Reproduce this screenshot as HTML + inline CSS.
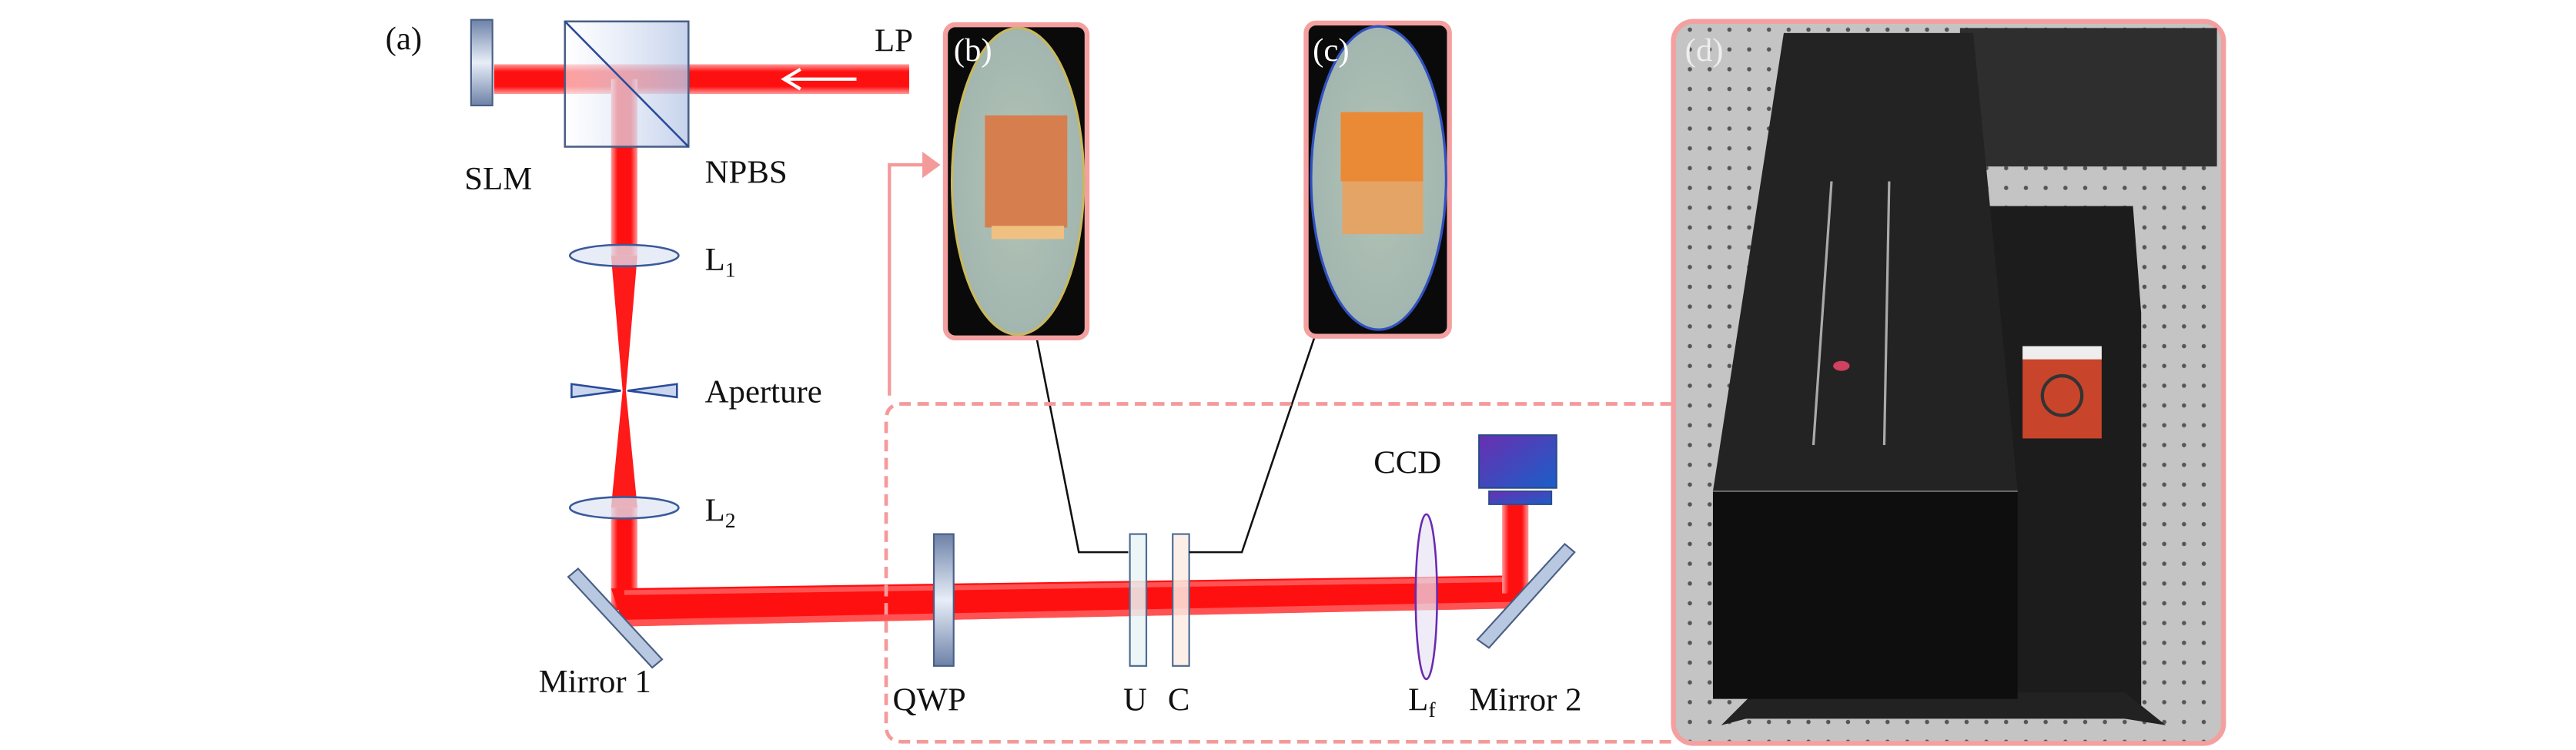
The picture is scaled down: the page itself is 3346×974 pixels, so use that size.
<!DOCTYPE html>
<html><head><meta charset="utf-8"><style>
html,body{margin:0;padding:0;background:#fff;}
svg{display:block;}
</style></head><body>
<svg width="3346" height="974" viewBox="0 0 1564 455" preserveAspectRatio="none" xmlns="http://www.w3.org/2000/svg" font-family="'Liberation Serif', 'DejaVu Serif', serif">
<defs>
<linearGradient id="bh" x1="0" y1="0" x2="0" y2="1"><stop offset="0" stop-color="#ff9a9a"/><stop offset=".25" stop-color="#ff1010"/><stop offset=".75" stop-color="#ff1010"/><stop offset="1" stop-color="#ff9a9a"/></linearGradient>
<linearGradient id="bv" x1="0" y1="0" x2="1" y2="0"><stop offset="0" stop-color="#ff9a9a"/><stop offset=".25" stop-color="#ff1010"/><stop offset=".75" stop-color="#ff1010"/><stop offset="1" stop-color="#ff9a9a"/></linearGradient>
<linearGradient id="glass" x1="0" y1="0" x2="1" y2="0"><stop offset="0" stop-color="#ffffff" stop-opacity=".6"/><stop offset="1" stop-color="#b8c8e8" stop-opacity=".8"/></linearGradient>
<linearGradient id="plate" x1="0" y1="0" x2="0" y2="1"><stop offset="0" stop-color="#6d82a8"/><stop offset=".5" stop-color="#e8eef8"/><stop offset="1" stop-color="#6d82a8"/></linearGradient>
<linearGradient id="ccd" x1="0" y1="0" x2="1" y2="1"><stop offset="0" stop-color="#6a2fb0"/><stop offset="1" stop-color="#1a5fc8"/></linearGradient>
<radialGradient id="dish" cx=".5" cy=".5" r=".5"><stop offset="0" stop-color="#b4c4b4"/><stop offset="1" stop-color="#a2b6b0"/></radialGradient>
<pattern id="dots" width="12" height="12" patternUnits="userSpaceOnUse"><rect width="12" height="12" fill="#c4c4c4"/><circle cx="6" cy="6" r="1.3" fill="#555"/></pattern>
</defs>

<!-- beams -->
<rect x="300" y="39" width="252" height="18" fill="url(#bh)"/>
<rect x="371" y="48" width="16" height="107" fill="url(#bv)"/>
<polygon points="371,155 387,155 380,237 378,237" fill="#ff1a1a"/>
<polygon points="378,237 380,237 387,308 371,308" fill="#ff1a1a"/>
<rect x="371" y="308" width="16" height="62" fill="url(#bv)"/>
<polygon points="371,357 924,349 924,369 379,380" fill="#ff1010"/>
<polygon points="379,358 924,350 924,353 379,361" fill="#ff8080" opacity=".6"/>
<polygon points="379,376 924,365 924,369 379,380" fill="#ff8080" opacity=".6"/>
<rect x="912" y="300" width="16" height="60" fill="url(#bv)"/>
<line x1="520" y1="48" x2="478" y2="48" stroke="#fff" stroke-width="2"/>
<polyline points="486,42 476,48 486,54" fill="none" stroke="#fff" stroke-width="2"/>

<rect x="286" y="12" width="13" height="52" fill="url(#plate)" stroke="#4a5f85" stroke-width="1"/>
<rect x="343" y="13" width="75" height="76" fill="url(#glass)" stroke="#4a5f85" stroke-width="1.2"/>
<line x1="343" y1="13" x2="418" y2="89" stroke="#2a4a9a" stroke-width="1.2"/>

<ellipse cx="379" cy="155" rx="33" ry="6.5" fill="#dfe6f4" fill-opacity=".75" stroke="#3a5a9a" stroke-width="1.2"/>
<ellipse cx="379" cy="308" rx="33" ry="6.5" fill="#dfe6f4" fill-opacity=".75" stroke="#3a5a9a" stroke-width="1.2"/>
<polygon points="347,233 377,237 347,241" fill="#c9d6ee" stroke="#2a4a9a" stroke-width="1.2"/>
<polygon points="411,233 381,237 411,241" fill="#c9d6ee" stroke="#2a4a9a" stroke-width="1.2"/>

<polygon points="345,350 351,345 402,400 396,405" fill="#b8c8e0" stroke="#4a5f85" stroke-width="1"/>
<rect x="567" y="324" width="12" height="80" fill="url(#plate)" stroke="#4a5f85" stroke-width="1"/>
<rect x="686" y="324" width="10" height="80" fill="#eaf4f4" fill-opacity=".85" stroke="#4a6a90" stroke-width="1"/>
<rect x="712" y="324" width="10" height="80" fill="#fbece4" fill-opacity=".85" stroke="#4a6a90" stroke-width="1"/>
<ellipse cx="866" cy="362" rx="6.5" ry="50" fill="#e8e4f4" fill-opacity=".7" stroke="#6a2ab0" stroke-width="1.2"/>
<polygon points="950,330 956,335 904,393 897,388" fill="#b8c8e0" stroke="#4a5f85" stroke-width="1"/>
<rect x="898" y="264" width="47" height="32" fill="url(#ccd)" stroke="#2a4a8a" stroke-width="1"/>
<rect x="904" y="298" width="38" height="8" fill="url(#ccd)" stroke="#2a4a8a" stroke-width=".8"/>

<polyline points="628,198 655,335 685,335" fill="none" stroke="#111" stroke-width="1.2"/>
<polyline points="801,196 754,335 722,335" fill="none" stroke="#111" stroke-width="1.2"/>

<path d="M1015,245 H548 Q538,245 538,255 V440 Q538,450 548,450 H1015" fill="none" stroke="#f49a9a" stroke-width="2.2" stroke-dasharray="7,4"/>
<polyline points="540,240 540,100 562,100" fill="none" stroke="#f49a9a" stroke-width="2"/>
<polygon points="560,92 571,100 560,108" fill="#f49a9a"/>

<!-- panel b -->
<rect x="574" y="15" width="86" height="190" rx="6" fill="#0a0a0a" stroke="#f4a0a0" stroke-width="3"/>
<ellipse cx="618" cy="110" rx="40" ry="93" fill="url(#dish)" stroke="#c8b860" stroke-width="1.5"/>
<rect x="598" y="70" width="50" height="68" fill="#d67e4e"/>
<rect x="602" y="137" width="44" height="8" fill="#f0c080"/>
<text x="579" y="37" font-size="20" fill="#fff">(b)</text>
<!-- panel c -->
<rect x="793" y="14" width="87" height="190" rx="6" fill="#0a0a0a" stroke="#f4a0a0" stroke-width="3"/>
<ellipse cx="837" cy="108" rx="41" ry="92" fill="url(#dish)" stroke="#3050c0" stroke-width="1.5"/>
<rect x="814" y="68" width="50" height="42" fill="#ea8a36"/>
<rect x="815" y="110" width="49" height="32" fill="#e4a466"/>
<text x="797" y="37" font-size="20" fill="#fff">(c)</text>

<!-- panel d -->
<rect x="1016" y="13" width="334" height="438" rx="12" fill="url(#dots)" stroke="#f4a0a0" stroke-width="3"/>
<rect x="1190" y="17" width="156" height="84" fill="#2e2e2e"/>
<polygon points="1205,125 1295,125 1300,190 1300,430 1210,430" fill="#1c1c1c"/>
<polygon points="1045,440 1065,420 1290,420 1315,440 1290,436 1060,436" fill="#222"/>
<polygon points="1083,20 1198,20 1225,298 1040,298" fill="#232323"/>
<rect x="1040" y="298" width="185" height="126" fill="#0e0e0e"/>
<line x1="1040" y1="298" x2="1225" y2="298" stroke="#666" stroke-width="1"/>
<line x1="1112" y1="110" x2="1101" y2="270" stroke="#aaa" stroke-width="1.5"/>
<line x1="1147" y1="110" x2="1144" y2="270" stroke="#aaa" stroke-width="1.5"/>
<ellipse cx="1118" cy="222" rx="5" ry="3" fill="#d04060"/>
<rect x="1228" y="210" width="48" height="56" fill="#c8452c"/>
<rect x="1228" y="210" width="48" height="8" fill="#eee"/>
<circle cx="1252" cy="240" r="12" fill="none" stroke="#333" stroke-width="2"/>
<text x="1023" y="37" font-size="20" fill="#eee">(d)</text>

<g font-size="20" fill="#111">
<text x="234" y="30">(a)</text>
<text x="282" y="115">SLM</text>
<text x="428" y="111">NPBS</text>
<text x="531" y="31">LP</text>
<text x="428" y="164">L<tspan font-size="13" dy="4">1</tspan></text>
<text x="428" y="244">Aperture</text>
<text x="428" y="316">L<tspan font-size="13" dy="4">2</tspan></text>
<text x="327" y="420">Mirror 1</text>
<text x="542" y="431">QWP</text>
<text x="682" y="431">U</text>
<text x="709" y="431">C</text>
<text x="834" y="287">CCD</text>
<text x="855" y="431">L<tspan font-size="13" dy="4">f</tspan></text>
<text x="892" y="431">Mirror 2</text>
</g>
</svg>
</body></html>
